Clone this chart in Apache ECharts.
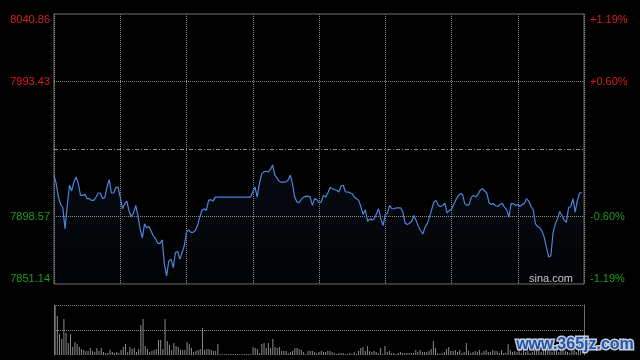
<!DOCTYPE html>
<html>
<head>
<meta charset="utf-8">
<script src="https://cdn.jsdelivr.net/npm/echarts@6/dist/echarts.min.js"></script>
<style>
html,body{margin:0;padding:0;background:#000;}
#c{width:640px;height:360px;}
</style>
</head>
<body>
<div id="c"></div>
<script>
// ---- data ----
const prevClose = 7946.00;
const priceTicks = [7851.14, 7898.57, 7946.00, 7993.43, 8040.86];
const pctTicks = ['-1.19%', '-0.60%', '', '+0.60%', '+1.19%'];

const price = [
7927.6,7921.7,7912.2,7907.1,7904.7,7889.9,7906.4,7920.5,7916.5,7922.9,
7926.4,7921.7,7913.4,7913.4,7914.1,7911.1,7911.1,7909.9,7909.9,7912.2,
7915.1,7915.1,7911.1,7911.8,7919.3,7924.5,7915.1,7915.1,7918.9,7919.3,
7912.2,7904.0,7907.6,7909.4,7902.3,7898.6,7900.9,7906.4,7899.3,7889.9,
7883.5,7893.4,7890.6,7891.5,7888.2,7884.9,7882.8,7879.7,7879.7,7882.1,
7865.1,7856.8,7867.4,7868.6,7862.7,7873.3,7874.0,7868.6,7873.3,7878.0,
7887.4,7889.2,7887.4,7887.4,7888.7,7892.2,7898.1,7902.8,7904.0,7902.8,
7909.9,7910.4,7909.4,7912.2,7912.2,7912.2,7912.2,7912.2,7912.2,7912.2,
7912.2,7912.2,7912.2,7912.2,7912.2,7912.2,7912.2,7912.2,7912.2,7912.2,
7915.8,7919.3,7912.2,7921.7,7928.3,7929.9,7930.4,7929.9,7931.6,7934.7,
7927.6,7925.5,7923.3,7922.6,7922.9,7922.9,7924.1,7927.6,7921.7,7912.2,
7908.7,7908.3,7910.6,7912.2,7912.7,7912.9,7912.2,7906.4,7911.1,7910.4,
7908.3,7908.7,7913.4,7912.2,7915.1,7918.9,7918.2,7917.5,7917.0,7915.8,
7920.0,7920.5,7915.8,7915.8,7915.3,7914.6,7912.2,7911.1,7909.9,7905.2,
7900.0,7903.3,7895.2,7896.9,7896.2,7896.9,7900.5,7904.0,7896.9,7892.2,
7900.0,7900.9,7906.4,7904.0,7904.0,7904.7,7904.7,7904.7,7901.6,7893.8,
7892.9,7893.8,7895.2,7899.3,7895.7,7891.5,7888.7,7886.3,7891.0,7893.4,
7898.1,7903.3,7908.7,7909.9,7906.4,7905.6,7906.1,7908.0,7901.0,7902.8,
7903.7,7907.1,7910.4,7912.9,7914.6,7914.1,7907.6,7906.4,7907.1,7912.2,
7913.4,7912.2,7914.1,7917.0,7918.2,7916.5,7915.1,7908.0,7907.1,7907.6,
7906.1,7905.6,7907.1,7907.6,7905.2,7903.3,7898.1,7907.6,7907.6,7906.4,
7907.1,7905.6,7907.1,7907.6,7911.1,7909.4,7905.6,7903.3,7893.4,7891.5,
7890.6,7888.2,7883.9,7876.8,7870.2,7871.0,7887.4,7893.4,7896.9,7902.1,
7899.3,7896.2,7894.5,7904.7,7905.6,7911.1,7901.6,7909.9,7915.1,7915.3
];

const volume = [
50,39,21,16,36,22,12,21,8,13,11,8,6,5,4,4,7,4,3,7,
4,7,3,2,2,5,3,2,3,2,5,8,11,3,8,6,7,3,6,30,
36,9,6,3,4,5,6,15,15,6,36,14,10,5,12,9,8,5,5,5,
13,11,7,3,4,5,6,27,5,6,6,5,4,4,11,1,1,1,1,1,
1,1,1,1,1,1,1,1,1,1,8,7,6,2,11,12,7,12,7,16,
8,7,8,4,4,4,2,3,4,7,7,6,5,3,1,4,4,4,3,2,
3,4,3,3,4,4,3,2,1,2,2,2,1,1,2,1,3,1,4,7,
8,4,9,4,3,4,3,2,7,1,9,3,4,2,2,1,2,3,2,2,
2,2,2,2,5,3,5,3,3,3,4,6,14,7,2,1,2,3,6,8,
4,4,5,3,5,2,3,12,4,2,3,4,3,5,2,4,5,3,3,5,
4,4,2,5,2,2,11,5,3,4,3,5,2,6,3,4,2,3,5,8,
4,3,6,9,5,4,3,6,4,3,5,7,4,3,2,4,6,3,5,4
];

// time categories 09:30-11:30, 13:01-15:00
const times = [];
for (let m = 0; m <= 240; m++) {
  let t = m <= 120 ? 9 * 60 + 30 + m : 13 * 60 + (m - 120);
  const h = Math.floor(t / 60), mm = t % 60;
  times.push((h < 10 ? '0' : '') + h + ':' + (mm < 10 ? '0' : '') + mm);
}

// ---- chart ----
const RED = '#d81e1e', GREEN = '#1b9e1b', GRIDC = '#8a8a8a', BORDER = '#707070';
const FONT = '"Liberation Sans", Arial, sans-serif';
const step = Math.round((priceTicks[1] - priceTicks[0]) * 100) / 100;

function tickIndex(v) {
  for (let i = 0; i < priceTicks.length; i++) if (Math.abs(v - priceTicks[i]) < 0.01) return i;
  return -1;
}
function styleName(i) {
  const col = i > 2 ? 'r' : 'g';
  const pos = i === priceTicks.length - 1 ? 'T' : (i === 0 ? 'B' : '');
  return col + pos;
}
const rich = {
  r: {color: RED, fontSize: 11, fontFamily: FONT},
  g: {color: GREEN, fontSize: 11, fontFamily: FONT},
  rT: {color: RED, fontSize: 11, fontFamily: FONT, padding: [11, 0, 0, 0]},
  gB: {color: GREEN, fontSize: 11, fontFamily: FONT, padding: [0, 0, 11, 0]}
};

const chart = echarts.init(document.getElementById('c'), null, {renderer: 'canvas'});
chart.setOption({
  animation: false,
  backgroundColor: '#000',
  grid: [
    {left: 54, top: 14, width: 530, height: 270, show: true, borderColor: BORDER, borderWidth: 1, backgroundColor: 'transparent'},
    {left: 54, top: 305, width: 530, height: 50}
  ],
  xAxis: [
    {type: 'category', gridIndex: 0, data: times, boundaryGap: false,
     axisLine: {show: false}, axisTick: {show: false}, axisLabel: {show: false},
     splitLine: {show: true, interval: 29, lineStyle: {color: GRIDC, type: [1, 1], width: 1}}},
    {type: 'category', gridIndex: 1, data: times, boundaryGap: true,
     axisLine: {show: false}, axisTick: {show: false}, axisLabel: {show: false}, splitLine: {show: false}}
  ],
  yAxis: [
    {type: 'value', gridIndex: 0, position: 'left', min: priceTicks[0], max: priceTicks[4], interval: step,
     axisLine: {show: false}, axisTick: {show: false}, splitLine: {show: false},
     axisLabel: {margin: 4, rich: rich, formatter: function (v) {
       const i = tickIndex(v);
       if (i < 0 || i === 2) return '';
       return '{' + styleName(i) + '|' + priceTicks[i].toFixed(2) + '}';
     }}},
    {type: 'value', gridIndex: 0, position: 'right', min: priceTicks[0], max: priceTicks[4], interval: step,
     axisLine: {show: false}, axisTick: {show: false}, splitLine: {show: false},
     axisLabel: {margin: 6, rich: rich, formatter: function (v) {
       const i = tickIndex(v);
       if (i < 0 || i === 2) return '';
       return '{' + styleName(i) + '|' + pctTicks[i] + '}';
     }}},
    {type: 'value', gridIndex: 1, position: 'left', min: 0, max: 50, interval: 25,
     axisLine: {show: true, lineStyle: {color: BORDER, width: 1}}, axisTick: {show: false}, axisLabel: {show: false},
     splitLine: {show: true, showMinLine: false, lineStyle: {color: GRIDC, type: [1, 1], width: 1}}},
    {type: 'value', gridIndex: 1, position: 'right', min: 0, max: 50, interval: 25,
     axisLine: {show: true, lineStyle: {color: BORDER, width: 1}}, axisTick: {show: false}, axisLabel: {show: false},
     splitLine: {show: false}}
  ],
  series: [
    {type: 'line', xAxisIndex: 0, yAxisIndex: 0, data: price, symbol: 'none', smooth: false,
     lineStyle: {color: '#4d84dc', width: 1.2},
     areaStyle: {color: new echarts.graphic.LinearGradient(0, 0, 0, 1, [
       {offset: 0, color: 'rgba(60,100,170,0.14)'},
       {offset: 1, color: 'rgba(60,100,170,0.05)'}
     ]), origin: 'start'},
     markLine: {silent: true, symbol: ['none', 'none'], label: {show: false}, animation: false,
       data: [
         {yAxis: priceTicks[1], lineStyle: {color: GRIDC, type: [1, 1], width: 1}},
         {yAxis: priceTicks[3], lineStyle: {color: GRIDC, type: [1, 1], width: 1}},
         {yAxis: prevClose, lineStyle: {color: GRIDC, type: [4, 2, 1, 2], width: 1}}
       ]}
    },
    {type: 'bar', xAxisIndex: 1, yAxisIndex: 2, data: volume, barWidth: 1,
     itemStyle: {color: '#8c8c8c'}}
  ],
  graphic: [
    {type: 'text', silent: true, z: 100, style: {text: 'sina.com', x: 573, y: 279, textAlign: 'right', textVerticalAlign: 'middle',
      fill: '#c8c8c8', font: '11px ' + FONT}},
    {type: 'text', silent: true, z: 100, style: {text: 'www.365jz.com', x: 575, y: 345, textAlign: 'center', textVerticalAlign: 'middle',
      fill: '#2356a6', stroke: '#c4ccdc', lineWidth: 3, strokeFirst: true, font: 'bold 16px ' + FONT}}
  ]
});
</script>
</body>
</html>
